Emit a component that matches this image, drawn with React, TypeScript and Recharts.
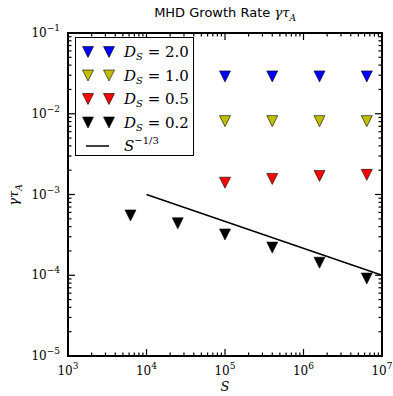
import {
  Legend,
  ReferenceArea,
  Scatter,
  ScatterChart,
  XAxis,
  YAxis,
} from "recharts";

// S values sampled (factor 4 apart)
const sAll = [6.25e3, 2.5e4, 1e5, 4e5, 1.6e6, 6.4e6];
const sHigh = [1e5, 4e5, 1.6e6, 6.4e6];

// growth rates per D_S
const rateD20 = [0.029, 0.029, 0.029, 0.029];
const rateD10 = [0.0081, 0.0081, 0.0081, 0.0081];
const rateD05 = [0.0014, 0.00156, 0.0017, 0.00175];
const rateD02 = [5.5e-4, 4.4e-4, 3.2e-4, 2.2e-4, 1.43e-4, 9.1e-5];

// reference slope S^{-1/3}, end points
const refS = [1e4, 1e7];
const refRate = [1e-3, 1e-4];

const xMajor = [1e3, 1e4, 1e5, 1e6, 1e7];
const yMajor = [1e-5, 1e-4, 1e-3, 1e-2, 1e-1];
const minorMult = [2, 3, 4, 5, 6, 7, 8, 9];

const series = [
  { label: "2.0", color: "#0000ff", s: sHigh, rate: rateD20 },
  { label: "1.0", color: "#bfbf00", s: sHigh, rate: rateD10 },
  { label: "0.5", color: "#ff0000", s: sHigh, rate: rateD05 },
  { label: "0.2", color: "#000000", s: sAll, rate: rateD02 },
];

const withMinors = (majors: number[]) => {
  const out: number[] = [];
  majors.forEach((m, i) => {
    out.push(m);
    if (i < majors.length - 1) minorMult.forEach((k) => out.push(m * k));
  });
  return out;
};

const xTicks = withMinors(xMajor);
const yTicks = withMinors(yMajor);

const isMajor = (v: number) => {
  const e = Math.log10(v);
  return Math.abs(e - Math.round(e)) < 1e-6;
};
const expOf = (v: number) => String(Math.round(Math.log10(v))).replace("-", "\u2212");

const W = 393;
const H = 396;
const M = { top: 33, right: 11, left: 68, bottom: 40 };
const PLOT_W = W - M.left - M.right;
const PLOT_H = H - M.top - M.bottom;

const serif = "'DejaVu Serif', serif";
const MAJ = 7;
const MIN = 3.5;
const TW = 1.2;

// bottom label + inward marks on bottom and top spines (drawn as thin rects)
const BottomTick = (p: any) => {
  const v = p.payload.value;
  const x = Number(p.x);
  const y = Number(p.y);
  const len = isMajor(v) ? MAJ : MIN;
  const top = y - PLOT_H;
  return (
    <g>
      <rect x={x - TW / 2} y={y - len} width={TW} height={len} fill="#000" />
      <rect x={x - TW / 2} y={top} width={TW} height={len} fill="#000" />
      {isMajor(v) && (
        <text x={x} y={y + 19} textAnchor="middle" fontFamily={serif} fontSize={12} fill="#000">
          <tspan>10</tspan>
          <tspan dy={-6} fontSize={9}>{expOf(v)}</tspan>
        </text>
      )}
    </g>
  );
};

// left label + inward marks on left and right spines
const LeftTick = (p: any) => {
  const v = p.payload.value;
  const x = Number(p.x);
  const y = Number(p.y);
  const len = isMajor(v) ? MAJ : MIN;
  const right = x + PLOT_W;
  return (
    <g>
      <rect x={x} y={y - TW / 2} width={len} height={TW} fill="#000" />
      <rect x={right - len} y={y - TW / 2} width={len} height={TW} fill="#000" />
      {isMajor(v) && (
        <text x={x - 8} y={y + 4} textAnchor="end" fontFamily={serif} fontSize={12} fill="#000">
          <tspan>10</tspan>
          <tspan dy={-6} fontSize={9}>{expOf(v)}</tspan>
        </text>
      )}
    </g>
  );
};

const Tri = (p: any) => {
  const { cx, cy, fill } = p;
  const h = 5.5;
  return (
    <polygon
      points={`${cx - h},${cy - h} ${cx + h},${cy - h} ${cx},${cy + h}`}
      fill={fill}
      stroke="#000"
      strokeWidth={0.6}
    />
  );
};

const NoDot = () => <g />;

const LegendBox = () => (
  <div
    style={{
      border: "1.5px solid #000",
      background: "#fff",
      width: 117,
      height: 117,
      boxSizing: "content-box",
      fontFamily: serif,
    }}
  >
    <svg width={117} height={117}>
      {series.map((s, i) => {
        const y = 14 + i * 23.5;
        return (
          <g key={s.label}>
            {[12, 33].map((x) => (
              <polygon
                key={x}
                points={`${x - 5.5},${y - 5.5} ${x + 5.5},${y - 5.5} ${x},${y + 5.5}`}
                fill={s.color}
                stroke="#000"
                strokeWidth={0.6}
              />
            ))}
            <text x={48} y={y + 5} fontSize={15} fill="#000">
              <tspan fontStyle="italic">D</tspan>
              <tspan fontStyle="italic" fontSize={10} dy={3}>S</tspan>
              <tspan dy={-3}>{` = ${s.label}`}</tspan>
            </text>
          </g>
        );
      })}
      <line x1={10} x2={33} y1={108} y2={108} stroke="#000" strokeWidth={1.5} />
      <text x={48} y={113} fontSize={15} fill="#000">
        <tspan fontStyle="italic">S</tspan>
        <tspan fontSize={10} dy={-7}>{"\u22121/3"}</tspan>
      </text>
    </svg>
  </div>
);

export default function App() {
  const refData = refS.map((x, i) => ({ x, y: refRate[i] }));
  return (
    <div style={{ position: "absolute", left: 0, top: 0, width: W, height: H }}>
      <ScatterChart width={W} height={H} margin={{ top: M.top, right: M.right, bottom: 0, left: 0 }}>
        <XAxis
          dataKey="x"
          type="number"
          scale="log"
          domain={[1e3, 1e7]}
          ticks={xTicks}
          interval={0}
          height={M.bottom}
          tickSize={0}
          tickMargin={0}
          tickLine={false}
          axisLine={false}
          tick={<BottomTick />}
        />
        <YAxis
          dataKey="y"
          type="number"
          scale="log"
          domain={[1e-5, 1e-1]}
          ticks={yTicks}
          interval={0}
          width={M.left}
          tickSize={0}
          tickMargin={0}
          tickLine={false}
          axisLine={false}
          tick={<LeftTick />}
        />
        <ReferenceArea
          x1={1e3}
          x2={1e7}
          y1={1e-5}
          y2={1e-1}
          fill="none"
          fillOpacity={0}
          stroke="#000"
          strokeWidth={2}
          strokeOpacity={1}
        />
        <Legend
          layout="horizontal"
          verticalAlign="middle"
          align="center"
          content={<LegendBox />}
          wrapperStyle={{ left: 75, top: 37, width: 120, height: 120 }}
        />
        <Scatter
          data={refData}
          line={{ stroke: "#000", strokeWidth: 1.5 }}
          shape={<NoDot />}
          isAnimationActive={false}
        />
        {series.map((s) => (
          <Scatter
            key={s.label}
            data={s.s.map((x, i) => ({ x, y: s.rate[i] }))}
            fill={s.color}
            shape={<Tri />}
            isAnimationActive={false}
          />
        ))}
      </ScatterChart>
      <div
        style={{
          position: "absolute",
          left: M.left,
          width: PLOT_W,
          top: 5,
          textAlign: "center",
          fontFamily: "'DejaVu Sans', sans-serif",
          fontSize: 13,
          lineHeight: "16px",
          whiteSpace: "nowrap",
        }}
      >
        MHD Growth Rate{" "}
        <span style={{ fontFamily: serif, fontStyle: "italic" }}>
          γτ<sub style={{ fontSize: 9 }}>A</sub>
        </span>
      </div>
      <div
        style={{
          position: "absolute",
          left: M.left,
          width: PLOT_W,
          top: 379,
          textAlign: "center",
          fontFamily: serif,
          fontStyle: "italic",
          fontSize: 13,
          lineHeight: "16px",
        }}
      >
        S
      </div>
      <div
        style={{
          position: "absolute",
          left: -16,
          top: M.top + PLOT_H / 2 - 8,
          width: 60,
          height: 16,
          transform: "rotate(-90deg)",
          textAlign: "center",
          fontFamily: serif,
          fontStyle: "italic",
          fontSize: 13,
          lineHeight: "16px",
        }}
      >
        γτ<sub style={{ fontSize: 9 }}>A</sub>
      </div>
    </div>
  );
}
